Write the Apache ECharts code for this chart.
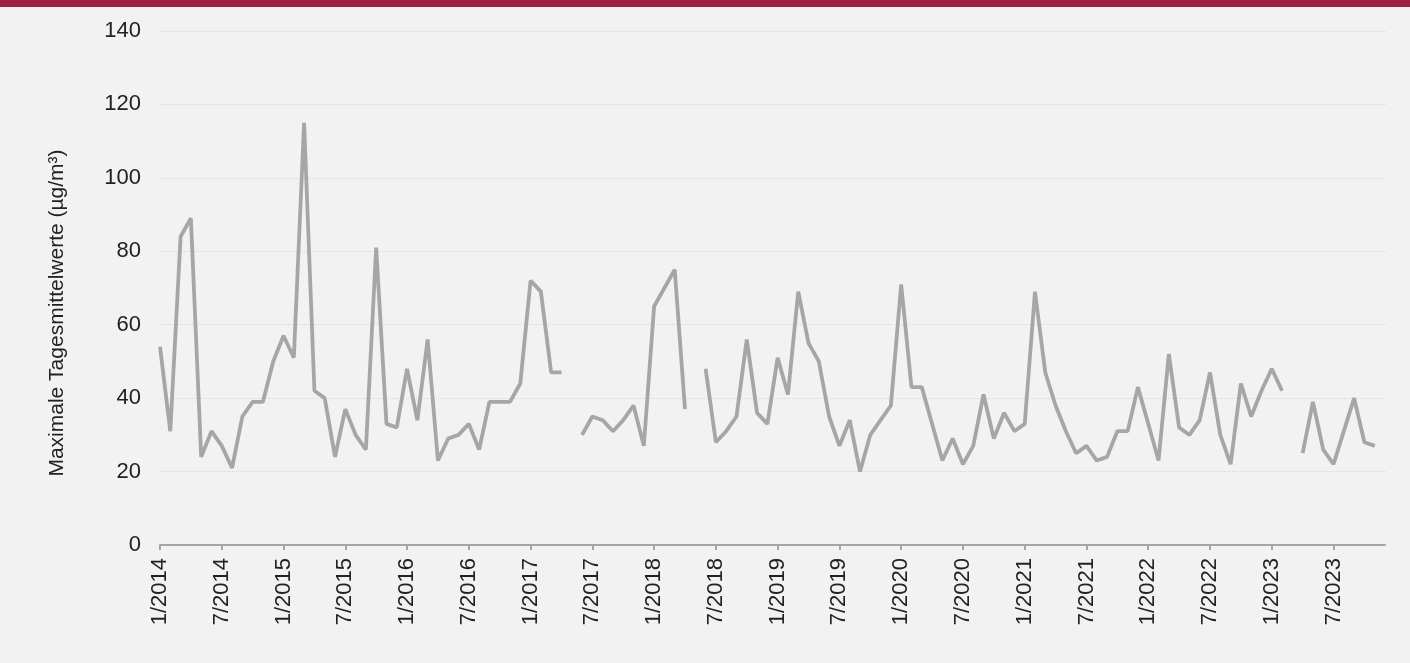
<!DOCTYPE html>
<html><head><meta charset="utf-8">
<script src="https://cdn.jsdelivr.net/npm/echarts@6/dist/echarts.min.js"></script>
<style>html,body{margin:0;padding:0;background:#f2f2f2;}#c{width:1410px;height:663px;}</style>
</head><body><div id="c"></div>
<script>
const years = [2014,2015,2016,2017,2018,2019,2020,2021,2022,2023];
const v2014 = [54,31,84,89,24,31,27,21,35,39,39,50];
const v2015 = [57,51,115,42,40,24,37,30,26,81,33,32];
const v2016 = [48,34,56,23,29,30,33,26,39,39,39,44];
const v2017 = [72,69,47,47,null,30,35,34,31,34,38,27];
const v2018 = [65,70,75,37,null,48,28,31,35,56,36,33];
const v2019 = [51,41,69,55,50,35,27,34,20,30,34,38];
const v2020 = [71,43,43,33,23,29,22,27,41,29,36,31];
const v2021 = [33,69,47,38,31,25,27,23,24,31,31,43];
const v2022 = [33,23,52,32,30,34,47,30,22,44,35,42];
const v2023 = [48,42,null,25,39,26,22,31,40,28,27,null];
const yTicks = [0,20,40,60,80,100,120,140];
const yAxisTitle = 'Maximale Tagesmittelwerte (µg/m³)';

const categories = [];
years.forEach(y => { for (let m = 1; m <= 12; m++) categories.push(m + '/' + y); });
const values = [].concat(v2014,v2015,v2016,v2017,v2018,v2019,v2020,v2021,v2022,v2023);

const chart = echarts.init(document.getElementById('c'));
chart.setOption({
  backgroundColor: '#f2f2f2',
  animation: false,
  graphic: [
    {type:'rect', left:0, top:0, shape:{width:1410, height:7}, style:{fill:'#9b2340'}},
    {type:'text', x:57, y:313, rotation:Math.PI/2,
     style:{text:yAxisTitle, fill:'#222', font:'21px "Liberation Sans"', align:'center', verticalAlign:'middle'}}
  ],
  grid: {left:160, right:25, top:31, bottom:118},
  xAxis: {
    type:'category', data:categories, boundaryGap:false,
    axisLine:{lineStyle:{color:'#a6a6a6', width:2}},
    axisTick:{interval:5, length:5, lineStyle:{color:'#a6a6a6', width:2}},
    axisLabel:{interval:5, rotate:90, color:'#222', fontSize:22, fontFamily:'Liberation Sans', margin:13},
    splitLine:{show:false}
  },
  yAxis: {
    type:'value', min:yTicks[0], max:yTicks[yTicks.length-1], interval:20,
    axisLine:{show:false}, axisTick:{show:false},
    axisLabel:{color:'#222', fontSize:22, fontFamily:'Liberation Sans', margin:19},
    splitLine:{lineStyle:{color:'#d9d9d9', type:'dotted', width:1}}
  },
  series: [{
    type:'line', data:values, showSymbol:false, connectNulls:false,
    lineStyle:{color:'#a6a6a6', width:3.8}, itemStyle:{color:'#a6a6a6'}
  }]
});
</script></body></html>
